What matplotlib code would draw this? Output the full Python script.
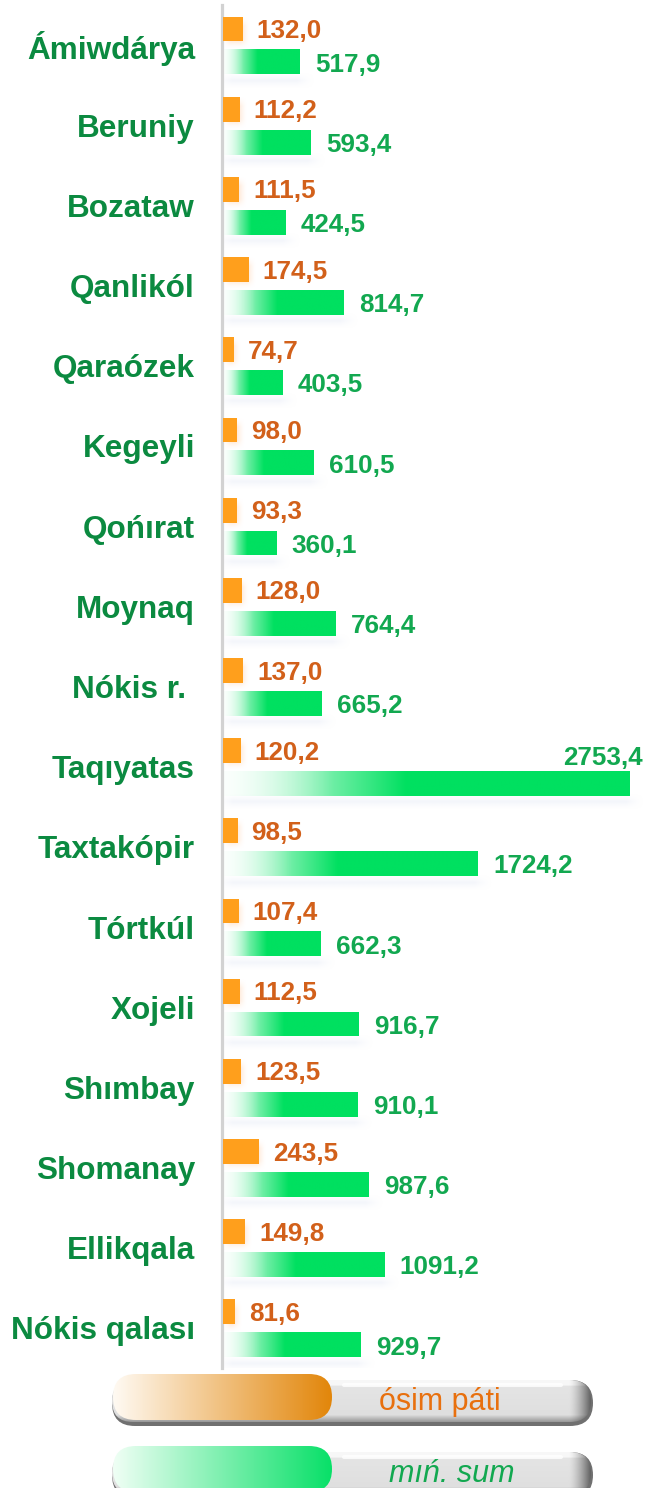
import numpy as np
import matplotlib
matplotlib.use('Agg')
import matplotlib.pyplot as plt
from matplotlib.patches import FancyBboxPatch
from matplotlib.colors import to_rgb

plt.rcParams['font.family'] = ['Liberation Sans', 'DejaVu Sans']

# data
districts = ['Ámiwdárya', 'Beruniy', 'Bozataw', 'Qanlikól', 'Qaraózek', 'Kegeyli',
             'Qońırat', 'Moynaq', 'Nókis r. ', 'Taqıyatas', 'Taxtakópir', 'Tórtkúl',
             'Xojeli', 'Shımbay', 'Shomanay', 'Ellikqala', 'Nókis qalası']
growth = [132.0, 112.2, 111.5, 174.5, 74.7, 98.0, 93.3, 128.0, 137.0, 120.2,
          98.5, 107.4, 112.5, 123.5, 243.5, 149.8, 81.6]
amount = [517.9, 593.4, 424.5, 814.7, 403.5, 610.5, 360.1, 764.4, 665.2, 2753.4,
          1724.2, 662.3, 916.7, 910.1, 987.6, 1091.2, 929.7]
legend_labels = ['ósim páti', 'mıń. sum']

ORANGE = '#ff9f1c'
ORANGE_TXT = '#d2601a'
GREEN = '#00e060'
GREEN_TXT = '#12a850'
LABEL_TXT = '#0b8a40'

W, H = 647, 1488
fig = plt.figure(figsize=(W / 100, H / 100), dpi=100)
ax = fig.add_axes([223 / W, 1 - 1368 / H, 424 / W, 1363 / H])

# spine position first, it resets the ticks
ax.spines['left'].set_position(('outward', 0.7))
ax.spines['left'].set_color('#d2d2d2')
ax.spines['left'].set_linewidth(2.3)


def fmt(v):
    return f'{v:.1f}'.replace('.', ',')


def gradient_fill(a, patch, c1, frac, zorder):
    x0, y0 = patch.get_x(), patch.get_y()
    w, h = patch.get_width(), patch.get_height()
    t = np.linspace(0, 1, 256)
    k = np.clip(t / frac, 0, 1) ** 1.2
    img = np.ones((1, 256, 4))
    img[0, :, :3] = (1 - k[:, None]) * np.array([0.93, 1.0, 0.96]) + k[:, None] * np.array(to_rgb(c1))
    img[0, :, 3] = 0.2 + 0.8 * np.clip(t / (frac * 0.6), 0, 1)
    im = a.imshow(img, extent=[x0, x0 + w, y0 + h, y0], aspect='auto',
                  interpolation='bilinear', zorder=zorder)
    im.set_clip_path(patch)


def soft_shadow(a, x0, x1, y0, y1, px, py, color, alpha, zorder):
    nx, ny = 200, 40
    xs = np.linspace(x0 - px, x1 + px, nx)
    ys = np.linspace(y0 - py, y1 + py, ny)
    fx = np.clip(np.minimum(xs - xs[0], xs[-1] - xs) / (2 * px), 0, 1)
    fy = np.clip(np.minimum(ys - ys[0], ys[-1] - ys) / (2 * py), 0, 1)
    img = np.zeros((ny, nx, 4))
    img[..., :3] = to_rgb(color)
    img[..., 3] = np.outer(fy, fx) ** 1.5 * alpha
    a.imshow(img, extent=[xs[0], xs[-1], ys[-1], ys[0]], aspect='auto',
             interpolation='bilinear', zorder=zorder)


y = np.arange(len(districts))
gbars = ax.barh(y + 0.21, amount, height=0.31, color='none', zorder=3)
obars = ax.barh(y - 0.2, growth, height=0.31, color=ORANGE, zorder=3)

ax.set_xlim(0, 2869)
ax.set_ylim(len(districts) - 0.5, -0.5)

for p in gbars:
    soft_shadow(ax, p.get_x(), p.get_x() + p.get_width() + 40,
                p.get_y() + p.get_height() + 0.06, p.get_y() + p.get_height() + 0.1,
                60, 0.08, '#dfe5f4', 0.7, 1)
    gradient_fill(ax, p, GREEN, 0.45, 2)

for p in obars:
    soft_shadow(ax, p.get_x() + 20, p.get_x() + p.get_width() + 15,
                p.get_y() + 0.05, p.get_y() + p.get_height() + 0.03,
                30, 0.06, '#ffd3b0', 0.6, 2)

xmax = ax.get_xlim()[1]
for p, v in zip(gbars, amount):
    if v > 0.9 * xmax:
        ax.annotate(fmt(v), (p.get_width(), p.get_y()), xytext=(9.4, 0.5),
                    textcoords='offset points', ha='right', va='bottom',
                    fontsize=18.7, fontweight='bold', color=GREEN_TXT, zorder=5)
    else:
        ax.annotate(fmt(v), (p.get_width(), p.get_y() + p.get_height() / 2),
                    xytext=(11, -2), textcoords='offset points', ha='left', va='center',
                    fontsize=18.7, fontweight='bold', color=GREEN_TXT, zorder=5)

for p, v in zip(obars, growth):
    ax.annotate(fmt(v), (p.get_width(), p.get_y() + p.get_height() / 2),
                xytext=(10, -1.5), textcoords='offset points', ha='left', va='center',
                fontsize=18.7, fontweight='bold', color=ORANGE_TXT, zorder=5)

ax.set_yticks(y)
ax.set_yticklabels(districts, fontsize=22.7, fontweight='bold', color=LABEL_TXT)
ax.tick_params(axis='y', length=0, pad=19.5)
ax.set_xticks([])
for s in ['top', 'right', 'bottom']:
    ax.spines[s].set_visible(False)
ax.patch.set_visible(False)

# legend pills, drawn in pixel coordinates
lg = fig.add_axes([0, 0, 1, 1])
lg.set_xlim(0, W)
lg.set_ylim(H, 0)
lg.set_axis_off()
lg.patch.set_visible(False)


def pill(x, y0, w, h, **kw):
    return FancyBboxPatch((x, y0), w, h,
                          boxstyle=f'round,pad=0,rounding_size={h / 2}', **kw)


def legend_item(yt, fill_c, c0, text, tx, txt_color, style):
    gx, gw, gh = 112, 481, 46
    # grey tube with a dark rim
    rim = pill(gx, yt + 6, gw, gh, facecolor='#707070', edgecolor='none', zorder=1)
    lg.add_patch(rim)
    body = pill(gx, yt + 6, gw - 2, gh - 4, facecolor='none', edgecolor='none', zorder=2)
    lg.add_patch(body)
    ty = np.linspace(0, 1, 60)
    shade = np.where(ty < 0.12, 0.97, 0.9 - 0.03 * ty)
    shade = np.where(ty > 0.82, 0.9 - (ty - 0.82) / 0.18 * 0.3, shade)
    tx_ = np.linspace(0, 1, 300)
    cap = 1 - 0.55 * np.clip((tx_ - 0.955) / 0.045, 0, 1) ** 1.5
    img = (shade[:, None] * cap[None, :])[..., None] * np.ones(3)
    im = lg.imshow(img, extent=[gx, gx + gw - 2, yt + 6 + gh - 4, yt + 6], aspect='auto',
                   interpolation='bilinear', zorder=2)
    im.set_clip_path(body)
    hi = pill(gx + 230, yt + 9, gw - 260, 4, facecolor='white', edgecolor='none',
              alpha=0.8, zorder=3)
    lg.add_patch(hi)

    # coloured half
    fp = pill(gx + 1, yt, 219, gh, facecolor='none', edgecolor='none', zorder=4)
    lg.add_patch(fp)
    tt = np.linspace(0, 1, 256)
    img2 = np.ones((1, 256, 3))
    img2[0] = (1 - tt[:, None]) * np.array(to_rgb(c0)) + tt[:, None] * np.array(to_rgb(fill_c))
    im2 = lg.imshow(img2, extent=[gx + 1, gx + 220, yt + gh, yt], aspect='auto',
                    interpolation='bilinear', zorder=4)
    im2.set_clip_path(fp)
    lg.text(tx, yt + 36, text, ha='center', va='baseline',
            fontsize=22, color=txt_color, style=style, zorder=5)


legend_item(1374, '#e2860a', '#fffaf3', legend_labels[0], 440, '#e8700e', 'normal')
legend_item(1446, '#08e068', '#f0fff5', legend_labels[1], 452, '#12a850', 'italic')

fig.savefig('out.png', dpi=100)
